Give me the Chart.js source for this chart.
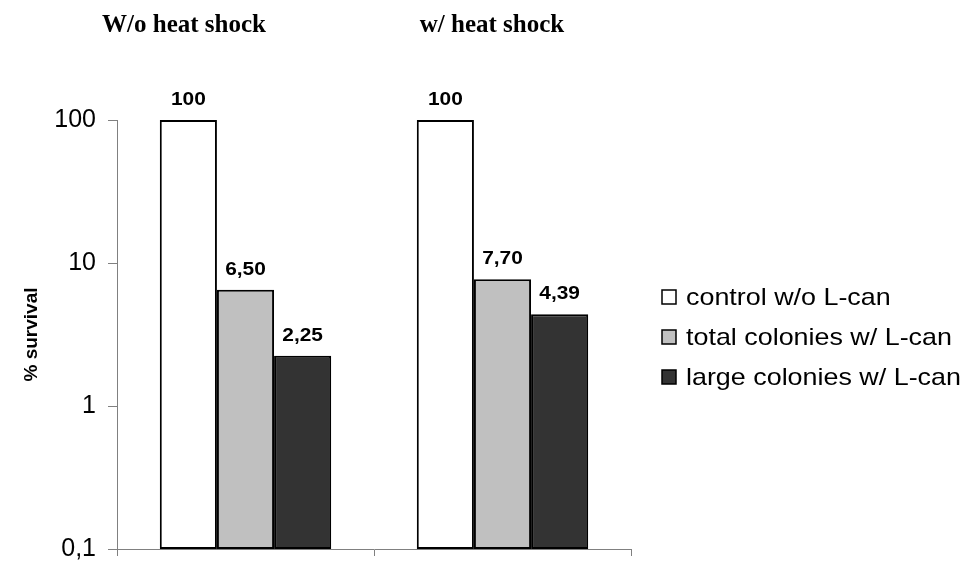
<!DOCTYPE html>
<html>
<head>
<meta charset="utf-8">
<script src="https://cdn.jsdelivr.net/npm/chart.js@4/dist/chart.umd.min.js"></script>
<style>
  html, body { margin: 0; padding: 0; background: #fff; }
  #wrap { width: 968px; height: 562px; position: relative; }
</style>
</head>
<body>
<div id="wrap"><canvas id="chart"></canvas></div>
<script>
// Data
const groups = ['W/o heat shock', 'w/ heat shock'];
const seriesNames = ['control w/o L-can', 'total colonies w/ L-can', 'large colonies w/ L-can'];
const controlValues = [100, 100];
const totalValues = [6.50, 7.70];
const largeValues = [2.25, 4.39];
const yTicks = [0.1, 1, 10, 100];
const yTickLabels = ['0,1', '1', '10', '100'];

const fills = ['#ffffff', '#c0c0c0', '#333333'];
const SANS = '"Liberation Sans", Arial, Helvetica, sans-serif';
const SERIF = '"Liberation Serif", "Times New Roman", serif';

// value label like the original: 100 stays, others get two decimals with a comma
function fmt(v) {
  return v >= 100 ? String(v) : v.toFixed(2).replace('.', ',');
}

// the original text is a bit wide, so stretch it horizontally
function wideText(ctx, text, x, y, sx) {
  ctx.save();
  ctx.translate(x, y);
  ctx.scale(sx, 1);
  ctx.fillText(text, 0, 0);
  ctx.restore();
}

// group titles, value labels and legend drawn on top
const overlay = {
  id: 'overlay',
  afterDatasetsDraw(chart) {
    const ctx = chart.ctx;
    ctx.save();

    // group titles above the plot
    ctx.fillStyle = '#000';
    ctx.font = 'bold 25px ' + SERIF;
    ctx.textAlign = 'center';
    ctx.textBaseline = 'alphabetic';
    const titleX = [184, 492];
    groups.forEach((g, i) => ctx.fillText(g, titleX[i], 32));

    // value labels
    ctx.font = 'bold 19px ' + SANS;
    chart.data.datasets.forEach((ds, di) => {
      const meta = chart.getDatasetMeta(di);
      meta.data.forEach((bar, i) => {
        wideText(ctx, fmt(ds.data[i]), bar.x, bar.y - 15, 1.1);
      });
    });

    // legend
    ctx.font = '24px ' + SANS;
    ctx.textAlign = 'left';
    ctx.textBaseline = 'middle';
    chart.data.datasets.forEach((ds, di) => {
      const y = 297 + di * 40;
      ctx.fillStyle = ds.backgroundColor;
      ctx.fillRect(662, y - 7, 14, 14);
      ctx.lineWidth = 1.5;
      ctx.strokeStyle = '#000';
      ctx.strokeRect(662, y - 7, 14, 14);
      ctx.fillStyle = '#000';
      wideText(ctx, ds.label, 686, y + 1, 1.12);
    });

    ctx.restore();
  }
};

const seriesValues = [controlValues, totalValues, largeValues];

new Chart(document.getElementById('chart'), {
  type: 'bar',
  data: {
    labels: groups,
    datasets: seriesNames.map((name, i) => ({
      label: name,
      data: seriesValues[i],
      backgroundColor: fills[i],
      borderColor: '#000',
      borderWidth: 2,
      borderSkipped: false,
      barPercentage: 1,
      categoryPercentage: 0.667,
    })),
  },
  options: {
    responsive: true,
    maintainAspectRatio: false,
    animation: false,
    layout: { padding: { top: 120, right: 337, left: 0, bottom: 13 } },
    plugins: { legend: { display: false }, tooltip: { enabled: false } },
    scales: {
      x: {
        grid: { drawOnChartArea: false, drawTicks: true, tickLength: 7, color: '#808080' },
        border: { color: '#808080', width: 1 },
        ticks: { display: false },
        afterFit: s => { s.height = 0; },
      },
      y: {
        type: 'logarithmic',
        min: 0.1,
        max: 100,
        afterBuildTicks: s => { s.ticks = yTicks.map(v => ({ value: v })); },
        grid: { drawOnChartArea: false, drawTicks: true, tickLength: 9, color: '#808080' },
        border: { color: '#808080', width: 1 },
        ticks: {
          padding: 12,
          color: '#000',
          font: { family: SANS, size: 25, lineHeight: 1 },
          callback: (v, i) => yTickLabels[i],
        },
        title: {
          display: true,
          text: '% survival',
          color: '#000',
          font: { family: SANS, size: 19, weight: 'bold' },
          padding: { top: 20 },
        },
        // fixed axis box; drop the label padding so the plot reaches down to y=549
        afterFit: s => { s.width = 117; s.paddingTop = 0; s.paddingBottom = 0; },
      },
    },
  },
  plugins: [overlay],
});
</script>
</body>
</html>
